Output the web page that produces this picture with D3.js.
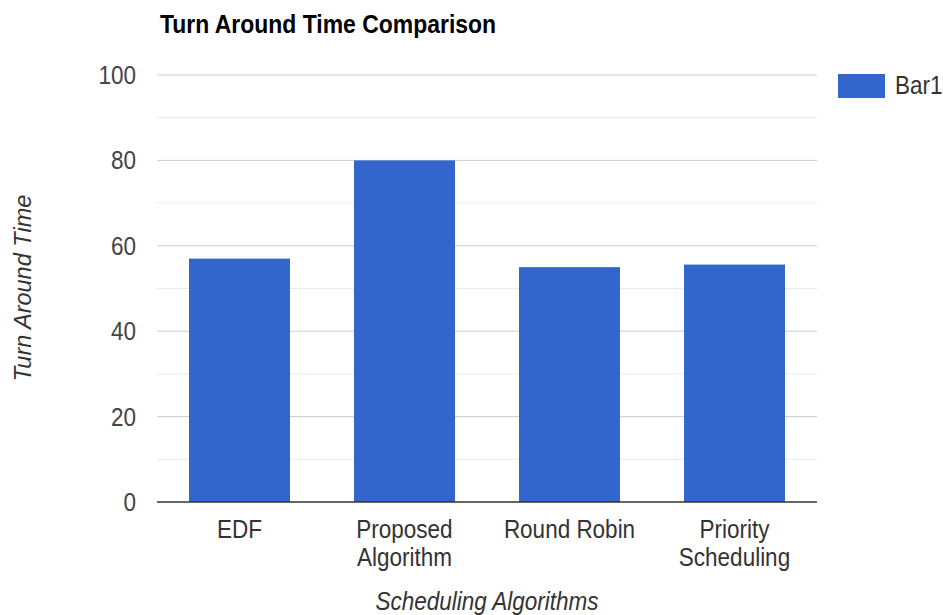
<!DOCTYPE html>
<html><head><meta charset="utf-8">
<script src="https://cdn.jsdelivr.net/npm/d3@7"></script>
<style>body{margin:0;background:#fff;font-family:"Liberation Sans",Arial,sans-serif}</style>
</head><body>
<svg id="c" width="943" height="615"></svg>
<script>
const categories = [["EDF"], ["Proposed","Algorithm"], ["Round Robin"], ["Priority","Scheduling"]];
const values = [57, 80, 55, 55.6];
const yTicks = [0, 20, 40, 60, 80, 100];
const minorTicks = [10, 30, 50, 70, 90];
const seriesName = "Bar1";

const svg = d3.select("#c");
const pL = 157, pR = 817, pT = 75, pB = 502;
const x = d3.scaleBand().domain(categories.map((d,i)=>i)).range([pL, pR]).paddingInner(0.388).paddingOuter(0.194);
const y = d3.scaleLinear().domain([0,100]).range([pB, pT]);
const SX = 0.9, FS = 25;

function txt(px, py, s, anchor, fill, extra){
  const t = svg.append("text").attr("transform",`translate(${px},${py}) scale(${SX},1)`)
    .attr("text-anchor",anchor||"start").attr("font-size",FS).attr("fill",fill||"#222").text(s);
  if (extra) extra(t);
  return t;
}

txt(160, 33, "Turn Around Time Comparison", "start", "#000", t=>t.attr("font-weight","bold").attr("font-size",25.5));

svg.selectAll(".minor").data(minorTicks).join("line").attr("x1",pL).attr("x2",pR)
  .attr("y1",d=>y(d)).attr("y2",d=>y(d)).attr("stroke","#ebebeb").attr("stroke-width",1);
svg.selectAll(".major").data(yTicks.filter(d=>d>0)).join("line").attr("x1",pL).attr("x2",pR)
  .attr("y1",d=>y(d)).attr("y2",d=>y(d)).attr("stroke","#cccccc").attr("stroke-width",1);

yTicks.forEach(d=>txt(136, y(d)+9, String(d), "end", "#444"));

svg.selectAll(".bar").data(values).join("rect")
  .attr("x",(d,i)=>x(i)).attr("width",x.bandwidth())
  .attr("y",d=>y(d)).attr("height",d=>y(0)-y(d)).attr("fill","#3366cc");

svg.append("line").attr("x1",pL).attr("x2",pR).attr("y1",y(0)).attr("y2",y(0)).attr("stroke","#333").attr("stroke-width",1.3);

categories.forEach((lines,i)=>{
  lines.forEach((l,j)=>txt(x(i)+x.bandwidth()/2, 538 + j*28, l, "middle", "#333"));
});

txt((pL+pR)/2, 610, "Scheduling Algorithms", "middle", "#333", t=>t.attr("font-style","italic"));
svg.append("text").attr("transform","translate(31,288) rotate(-90)").attr("text-anchor","middle")
  .attr("font-size",23.5).attr("font-style","italic").attr("fill","#333").text("Turn Around Time");

svg.append("rect").attr("x",838).attr("y",74).attr("width",47).attr("height",24).attr("fill","#3366cc");
txt(895, 94, seriesName, "start", "#333");
</script>
</body></html>
